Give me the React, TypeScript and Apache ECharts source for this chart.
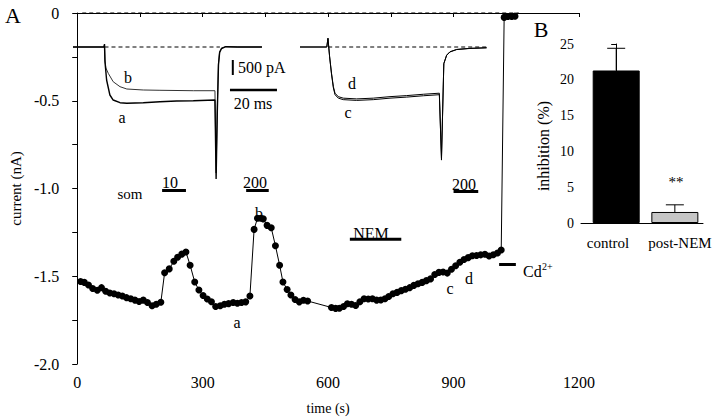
import React, { useEffect, useRef } from "react";
import * as echarts from "echarts";

const FONT = "Liberation Serif";

// ---- Panel A: time course (s, nA)
const timeS = [
  8, 17, 27, 37, 48, 58, 68, 78, 88, 98, 108, 118, 128, 138, 148, 158, 168, 179, 189, 200,
  209, 220, 231, 240, 250, 260, 270, 281, 291, 301, 311, 321, 331, 342, 352, 362, 373, 383, 393, 403,
  413, 423, 431, 439, 445, 454, 464, 474, 484, 492, 502, 511, 521, 531, 541, 551,
  608, 618, 627, 637, 646, 656, 666, 676, 686, 696, 706, 716, 726, 736, 745, 755, 765, 775, 785, 795,
  805, 815, 825, 835, 845, 855, 865, 875, 885, 895, 905, 915, 925, 935, 945, 955, 965, 975, 985, 995,
  1005, 1014, 1021, 1030, 1039, 1047,
];
const currentNA = [
  -1.53, -1.535, -1.55, -1.57, -1.58, -1.565, -1.585, -1.595, -1.6, -1.607, -1.613, -1.622, -1.628, -1.636, -1.644, -1.636, -1.65, -1.668, -1.66, -1.648,
  -1.48, -1.458, -1.415, -1.392, -1.374, -1.362, -1.437, -1.533, -1.578, -1.61, -1.63, -1.645, -1.672, -1.668, -1.66, -1.656, -1.65, -1.654, -1.65, -1.646,
  -1.613, -1.233, -1.17, -1.17, -1.173, -1.21, -1.224, -1.326, -1.437, -1.533, -1.576, -1.607, -1.632, -1.646, -1.637, -1.641,
  -1.678, -1.683, -1.682, -1.672, -1.657, -1.66, -1.667, -1.645, -1.628, -1.63, -1.628, -1.636, -1.635, -1.628, -1.615, -1.6, -1.592, -1.582, -1.574, -1.565,
  -1.552, -1.543, -1.535, -1.525, -1.515, -1.49, -1.478, -1.476, -1.482, -1.46, -1.44, -1.42, -1.405, -1.394, -1.383, -1.382, -1.378, -1.375, -1.385, -1.377,
  -1.368, -1.35, -0.025, -0.02, -0.02, -0.018,
];
const zeroLineS = [12, 1056];

// drug application bars (s) and their drawing level (nA)
const applicationStart = [203, 404, 652, 900, 1009];
const applicationEnd = [260, 458, 775, 959, 1049];
const applicationLevel = [-1.011, -1.011, -1.289, -1.017, -1.433];

// ---- Insets: current sweeps (ms, pA)
const traceATime = [0, 13.2, 13.4, 13.6, 14.3, 15.7, 17.1, 20, 22.9, 29.9, 37, 44.1, 51.2, 60.4, 60.9, 61.4, 61.9, 62.4, 63.2, 65, 70, 80.4];
const traceA = [0, 0, 100, -490, -1100, -1600, -1767, -1857, -1877, -1857, -1823, -1800, -1790, -1767, -4400, -2200, -600, -180, -50, 10, 0, 0];
const traceBTime = [0, 13.2, 13.4, 13.6, 14.0, 15.0, 17.1, 20, 22.9, 29.9, 37, 51.2, 60.4, 60.9, 61.4, 61.9, 62.4, 63.2, 65, 70, 80.4];
const traceB = [0, 0, 100, -433, -700, -877, -1157, -1323, -1400, -1433, -1443, -1457, -1457, -4200, -2000, -550, -160, -40, 10, 0, 0];
const traceCDTime = [0, 11.4, 11.9, 12.6, 13.4, 14.2, 14.9, 16.3, 18.4, 24.1, 31.2, 38.3, 45.4, 52.5, 59.3, 60.2, 61.2, 62.4, 63.8, 66.7, 72.3, 79.4];
const traceD = [0, 0, 290, -320, -870, -1320, -1540, -1655, -1705, -1730, -1705, -1655, -1620, -1575, -1540, -3770, -550, -270, -160, -80, -45, -25];
const traceC = [0, 0, 290, -330, -900, -1360, -1590, -1705, -1755, -1780, -1755, -1705, -1670, -1625, -1590, -3700, -560, -280, -165, -85, -48, -27];
const baselineLeftMs = [13.4, 62.5];
const baselineRightMs = [12, 80];
const scaleBarPA = [-433, -933]; // 500 pA
const scaleBarPAAt = 68;
const scaleBarMs = [66.8, 86.8]; // 20 ms
const scaleBarMsAt = -1433;

// ---- Panel B
const groups = ["control", "post-NEM"];
const inhibitionMean = [21.3, 1.54];
const inhibitionSem = [3.1, 1.0];

const pairs = (xs: number[], ys: number[]) => xs.map((x, i) => [x, ys[i]]);

const txt = (text: string, x: number, y: number, fontSize = 16, align = "center", extra: any = {}) => ({
  type: "text",
  x,
  y,
  silent: true,
  ...extra,
  style: { text, fontSize, fontFamily: FONT, fill: "#000", align, verticalAlign: "middle" },
});

export default function App() {
  const ref = useRef<HTMLDivElement>(null);
  useEffect(() => {
    if (!ref.current) return;
    const chart = echarts.init(ref.current, undefined, { renderer: "svg" });
    const blackLine = (w: number, type: any = "solid") => ({ color: "#000", width: w, type });

    const appSeries = applicationStart.map((s, i) => ({
      type: "line",
      xAxisIndex: 0,
      yAxisIndex: 0,
      data: [[s, applicationLevel[i]], [applicationEnd[i], applicationLevel[i]]],
      symbol: "none",
      lineStyle: blackLine(3),
      silent: true,
    }));

    const option: any = {
      animation: false,
      backgroundColor: "#fff",
      textStyle: { fontFamily: FONT },
      grid: [
        { left: 71, top: 13, width: 508, height: 358 },
        { left: 73, top: 32, width: 235, height: 285 },
        { left: 300, top: 32, width: 235, height: 285 },
        { left: 581, top: 44, width: 122, height: 179 },
      ],
      xAxis: [
        {
          gridIndex: 0, type: "value", min: 0, max: 1200, interval: 300,
          axisLine: { lineStyle: { color: "#000", width: 1 } },
          axisTick: { length: 4, lineStyle: { color: "#000" } },
          minorTick: { show: true, splitNumber: 2, length: 4, lineStyle: { color: "#000" } },
          splitLine: { show: false },
          axisLabel: { fontSize: 16, fontFamily: FONT, color: "#000", margin: 10, formatter: (v: number) => String(v) },
          name: "time (s)", nameLocation: "middle", nameGap: 37,
          nameTextStyle: { fontSize: 14, fontFamily: FONT, color: "#000" },
        },
        { gridIndex: 1, type: "value", min: 0, max: 100, show: false },
        { gridIndex: 2, type: "value", min: 0, max: 100, show: false },
        {
          gridIndex: 3, type: "value", min: -0.6, max: 1.48,
          axisLine: { lineStyle: { color: "#000", width: 1 } },
          axisTick: { show: false },
          splitLine: { show: false },
          axisLabel: { show: false },
        },
      ],
      yAxis: [
        {
          gridIndex: 0, type: "value", min: -2, max: 0, interval: 0.5, offset: 10,
          axisLine: { show: true, lineStyle: { color: "#000", width: 1 } },
          axisTick: { show: true, length: 5, lineStyle: { color: "#000" } },
          minorTick: { show: true, splitNumber: 2, length: 5, lineStyle: { color: "#000" } },
          splitLine: { show: false },
          axisLabel: {
            fontSize: 16, fontFamily: FONT, color: "#000", margin: 8,
            formatter: (v: number) => (v === 0 ? "0" : v.toFixed(1)),
          },
          name: "current (nA)", nameLocation: "middle", nameGap: 44, nameRotate: 90,
          nameTextStyle: { fontSize: 15, fontFamily: FONT, color: "#000" },
        },
        { gridIndex: 1, type: "value", min: -9000, max: 500, show: false },
        { gridIndex: 2, type: "value", min: -9000, max: 500, show: false },
        {
          gridIndex: 3, type: "value", min: 0, max: 25, interval: 5,
          axisLine: { show: true, lineStyle: { color: "#000", width: 1 } },
          axisTick: { show: true, length: 5, lineStyle: { color: "#000" } },
          splitLine: { show: false },
          axisLabel: { fontSize: 14, fontFamily: FONT, color: "#000", margin: 7 },
        },
      ],
      series: [
        {
          type: "line", xAxisIndex: 0, yAxisIndex: 0, clip: false,
          data: [[zeroLineS[0], 0], [zeroLineS[1], 0]], symbol: "none",
          lineStyle: blackLine(1, [4, 3]), silent: true,
        },
        ...appSeries,
        {
          type: "line", xAxisIndex: 0, yAxisIndex: 0, clip: false,
          data: pairs(timeS, currentNA),
          symbol: "circle", symbolSize: 7, showSymbol: true,
          itemStyle: { color: "#000" }, lineStyle: blackLine(1), silent: true,
        },
        // left inset
        {
          type: "line", xAxisIndex: 1, yAxisIndex: 1, clip: false,
          data: [[baselineLeftMs[0], 0], [baselineLeftMs[1], 0]], symbol: "none",
          lineStyle: blackLine(1, [4, 3]), silent: true,
        },
        {
          type: "line", xAxisIndex: 1, yAxisIndex: 1, clip: false,
          data: pairs(traceBTime, traceB), symbol: "none",
          lineStyle: { color: "#333", width: 1 }, silent: true,
        },
        {
          type: "line", xAxisIndex: 1, yAxisIndex: 1, clip: false,
          data: pairs(traceATime, traceA), symbol: "none",
          lineStyle: blackLine(1.4), silent: true,
        },
        {
          type: "line", xAxisIndex: 1, yAxisIndex: 1, clip: false,
          data: [[scaleBarPAAt, scaleBarPA[0]], [scaleBarPAAt, scaleBarPA[1]]], symbol: "none",
          lineStyle: blackLine(2), silent: true,
        },
        {
          type: "line", xAxisIndex: 1, yAxisIndex: 1, clip: false,
          data: [[scaleBarMs[0], scaleBarMsAt], [scaleBarMs[1], scaleBarMsAt]], symbol: "none",
          lineStyle: blackLine(2.5), silent: true,
        },
        // right inset
        {
          type: "line", xAxisIndex: 2, yAxisIndex: 2, clip: false,
          data: [[baselineRightMs[0], 0], [baselineRightMs[1], 0]], symbol: "none",
          lineStyle: blackLine(1, [4, 3]), silent: true,
        },
        {
          type: "line", xAxisIndex: 2, yAxisIndex: 2, clip: false,
          data: pairs(traceCDTime, traceC), symbol: "none",
          lineStyle: blackLine(1), silent: true,
        },
        {
          type: "line", xAxisIndex: 2, yAxisIndex: 2, clip: false,
          data: pairs(traceCDTime, traceD), symbol: "none",
          lineStyle: blackLine(1), silent: true,
        },
        // panel B
        {
          type: "bar", xAxisIndex: 3, yAxisIndex: 3, barWidth: 47,
          data: inhibitionMean.map((v, i) => ({
            value: [i, v],
            itemStyle: i === 0
              ? { color: "#000", borderColor: "#000", borderWidth: 1 }
              : { color: "#c6c6c6", borderColor: "#000", borderWidth: 1 },
          })),
          silent: true,
        },
        {
          type: "custom", xAxisIndex: 3, yAxisIndex: 3,
          data: inhibitionMean.map((v, i) => [i, v, inhibitionSem[i]]),
          renderItem: (params: any, api: any) => {
            const x = api.value(0), top = api.value(1), err = api.value(2);
            const p0 = api.coord([x, top]);
            const p1 = api.coord([x, top + err]);
            return {
              type: "group",
              children: [
                { type: "line", shape: { x1: p0[0], y1: p0[1], x2: p1[0], y2: p1[1] }, style: { stroke: "#000", lineWidth: 1 } },
                { type: "line", shape: { x1: p1[0] - 9, y1: p1[1], x2: p1[0] + 9, y2: p1[1] }, style: { stroke: "#000", lineWidth: 1 } },
              ],
            };
          },
          silent: true,
        },
      ],
      graphic: {
        elements: [
          txt("A", 13, 15, 22),
          txt("B", 541, 29, 22),
          txt("som", 130, 194, 15),
          txt("10", 170, 182),
          txt("200", 255, 182),
          txt("200", 464, 184),
          txt("NEM", 371, 233),
          txt("Cd", 523, 271, 16, "left"),
          txt("2+", 542, 266, 10, "left"),
          txt("a", 237, 322),
          txt("b", 259, 213),
          txt("c", 450, 288),
          txt("d", 469, 278),
          txt("b", 128, 77),
          txt("a", 122, 117),
          txt("d", 352, 83),
          txt("c", 348, 112),
          txt("500 pA", 238, 67, 16, "left"),
          txt("20 ms", 253, 103),
          txt("**", 676, 182, 15),
          txt(groups[0], 608, 243, 15),
          txt(groups[1], 680, 243, 15),
          txt("inhibition (%)", 543, 146, 16, "center", { rotation: Math.PI / 2 }),
        ],
      },
    };
    chart.setOption(option);
    return () => chart.dispose();
  }, []);
  return <div ref={ref} style={{ position: "fixed", left: 0, top: 0, width: 720, height: 420 }} />;
}
